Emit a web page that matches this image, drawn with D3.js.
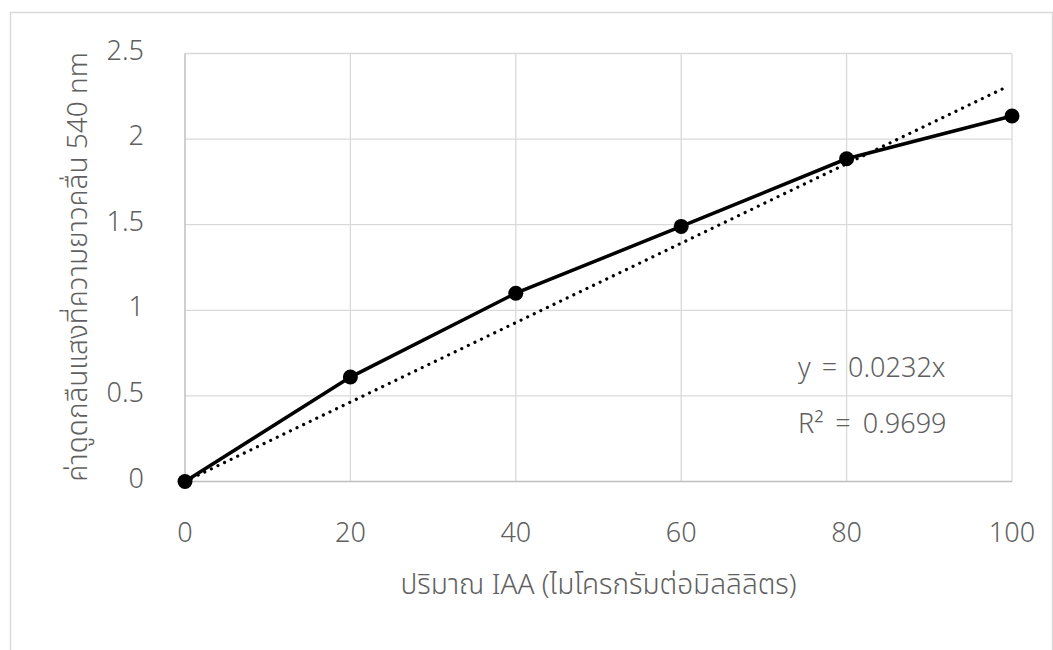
<!DOCTYPE html>
<html><head><meta charset="utf-8">
<script src="https://cdn.jsdelivr.net/npm/d3@7"></script>
<style>
body{margin:0;background:#fff;}
text{font-family:"Noto Sans","Noto Sans Thai","DejaVu Sans",sans-serif;}
</style></head>
<body><svg id="c" width="1053" height="650"></svg>
<script>
const xValues = [0, 20, 40, 60, 80, 100];
const yValues = [0, 0.61, 1.10, 1.49, 1.885, 2.135];
const xTicks = [0, 20, 40, 60, 80, 100];
const yTicks = [0, 0.5, 1, 1.5, 2, 2.5];
const slope = 0.0232;
const eqLabel = "y = 0.0232x";
const r2Label = "R² = 0.9699";
const xTitle = "ปริมาณ IAA (ไมโครกรัมต่อมิลลิลิตร)";
const yTitle = "ค่าดูดกลืนแสงที่ความยาวคลื่น 540 nm";

const svg = d3.select("#c");
// outer chart border
svg.append("rect").attr("x",10.5).attr("y",12.5).attr("width",1042).attr("height",660)
  .attr("fill","none").attr("stroke","#d9d9d9").attr("stroke-width",1.5);

const L=185, R=1012, T=53.5, B=481.5;
const x = d3.scaleLinear().domain([0,100]).range([L,R]);
const y = d3.scaleLinear().domain([0,2.5]).range([B,T]);

// gridlines
svg.append("g").selectAll("line").data(xTicks.slice(1)).join("line")
  .attr("x1",d=>x(d)).attr("x2",d=>x(d)).attr("y1",T).attr("y2",B)
  .attr("stroke","#d9d9d9").attr("stroke-width",1.3);
svg.append("g").selectAll("line").data(yTicks.slice(1)).join("line")
  .attr("x1",L).attr("x2",R).attr("y1",d=>y(d)).attr("y2",d=>y(d))
  .attr("stroke","#d9d9d9").attr("stroke-width",1.3);
// axis lines
svg.append("line").attr("x1",L).attr("x2",R).attr("y1",B).attr("y2",B).attr("stroke","#bfbfbf").attr("stroke-width",1.5);
svg.append("line").attr("x1",L).attr("x2",L).attr("y1",T).attr("y2",B).attr("stroke","#bfbfbf").attr("stroke-width",1.5);

const tc = "#606060";
// tick labels
svg.append("g").selectAll("text").data(xTicks).join("text")
  .attr("x",d=>x(d)).attr("y",542).attr("text-anchor","middle")
  .attr("font-size",27).attr("font-weight",300).attr("fill",tc).text(d=>d);
svg.append("g").selectAll("text").data(yTicks).join("text")
  .attr("x",144).attr("y",d=>y(d)+6).attr("text-anchor","end")
  .attr("font-size",27).attr("font-weight",300).attr("fill",tc).text(d=>d);

// trendline
svg.append("line").attr("x1",x(0)).attr("y1",y(0)).attr("x2",x(100)-6).attr("y2",y(slope*(100-6*100/(R-L))))
  .attr("stroke","#000").attr("stroke-width",3.2).attr("stroke-linecap","round").attr("stroke-dasharray","0.01 7.3");

// series
const line = d3.line().x((d,i)=>x(xValues[i])).y(d=>y(d));
svg.append("path").datum(yValues).attr("d",line).attr("fill","none").attr("stroke","#000").attr("stroke-width",3.5);
svg.append("g").selectAll("circle").data(yValues).join("circle")
  .attr("cx",(d,i)=>x(xValues[i])).attr("cy",d=>y(d)).attr("r",7.5).attr("fill","#000");

// equation labels
svg.append("text").attr("x",798).attr("y",377).attr("font-size",27).attr("font-weight",300)
  .attr("word-spacing",4).attr("fill",tc).text(eqLabel);
svg.append("text").attr("x",798).attr("y",433).attr("font-size",27).attr("font-weight",300)
  .attr("word-spacing",5).attr("fill",tc).text(r2Label);

// axis titles
svg.append("text").attr("x",(L+R)/2).attr("y",594).attr("text-anchor","middle")
  .attr("font-size",28).attr("font-weight",300).attr("fill",tc).text(xTitle);
svg.append("text").attr("transform","translate(87,267) rotate(-90)").attr("text-anchor","middle")
  .attr("font-size",28).attr("font-weight",300).attr("fill",tc).text(yTitle);
</script></body></html>
